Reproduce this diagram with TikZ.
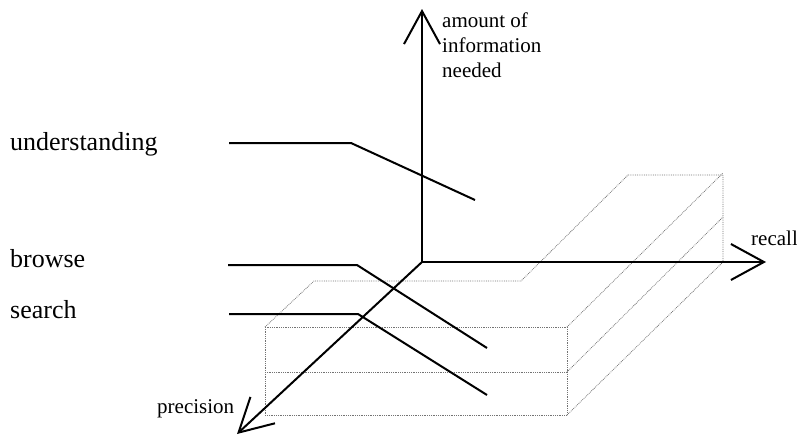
\documentclass[tikz,border=0pt]{standalone}
\usepackage{fontspec}
\setmainfont{Liberation Serif}
\usetikzlibrary{arrows.meta}

\begin{document}
\begin{tikzpicture}[
    x=1pt, y=-1pt,
    every node/.style={inner sep=0pt, anchor=base west},
    big/.style={font=\fontsize{26}{30}\selectfont},
    small/.style={font=\fontsize{21}{25}\selectfont, align=left},
    axis/.style={-{Straight Barb[length=33pt, width=36pt]}, line width=2pt},
    level/.style={line width=2pt},
    slab/.style={black!55, densely dotted, line width=0.8pt},
]
\useasboundingbox (0,0) rectangle (797,439);

% ── Dotted block ─────────────────────────────────────────────────────────────
\draw[slab] (265,327) rectangle (567,415);
\draw[slab] (265,372) -- (567,372);
\draw[slab] (265,327) -- (314,281) -- (521,281) -- (628,175) -- (723,175) -- (723,262);
\draw[slab] (567,327) -- (723,173);
\draw[slab] (567,372) -- (723,217);
\draw[slab] (567,415) -- (723,262);

% ── Axes ─────────────────────────────────────────────────────────────────────
\coordinate (o) at (422,262);
\coordinate (up) at (422,9);
\coordinate (right) at (766,262);
\coordinate (down) at (237,434);
\draw[axis] (o) -- (up);
\draw[axis] (o) -- (right);
\draw[axis] (o) -- (down);

\node[small] (amount) at (442,77) {amount of\\information\\needed};
\node[small] (recall) at (751,245) {recall};
\node[small] (precision) at (157,413) {precision};

% ── Levels ───────────────────────────────────────────────────────────────────
\node[big] (understanding) at (10,150) {understanding};
\node[big] (browse) at (10,267) {browse};
\node[big] (search) at (10,318) {search};

\coordinate (u1) at (229,143);
\coordinate (u2) at (351,143);
\coordinate (u3) at (475,200);
\coordinate (b1) at (228,265);
\coordinate (b2) at (357,265);
\coordinate (b3) at (487,348);
\coordinate (s1) at (229,314);
\coordinate (s2) at (358,314);
\coordinate (s3) at (487,395);

\draw[level] (u1) -- (u2) -- (u3);
\draw[level] (b1) -- (b2) -- (b3);
\draw[level] (s1) -- (s2) -- (s3);

\end{tikzpicture}
\end{document}
